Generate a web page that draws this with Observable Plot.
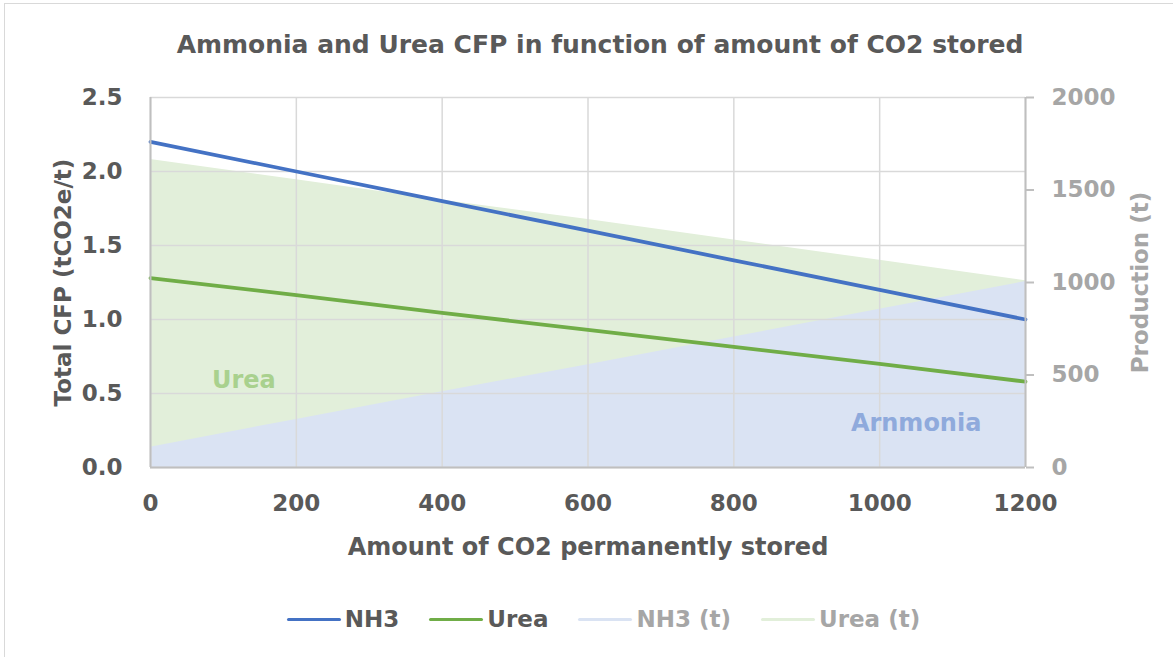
<!DOCTYPE html>
<html>
<head>
<meta charset="utf-8">
<script src="https://cdn.jsdelivr.net/npm/d3@7"></script>
<script src="https://cdn.jsdelivr.net/npm/@observablehq/plot@0.6"></script>
<style>
  html, body { margin: 0; padding: 0; background: #fff; width: 1173px; height: 657px; overflow: hidden; }
  body { font-family: "DejaVu Sans", sans-serif; }
  #frame { position: absolute; left: 4px; top: 3px; width: 1200px; height: 700px; border: 1px solid #d9d9d9; box-sizing: border-box; }
  #title { position: absolute; top: 30px; left: 0; width: 1200px; text-align: center; font-size: 25px; font-weight: bold; color: #595959; }
  #chart { position: absolute; left: 0; top: 80px; }
  #legend { position: absolute; top: 606px; left: 0; width: 1207px; display: flex; justify-content: center; gap: 30px; font-size: 23px; font-weight: bold; }
  .item { display: flex; align-items: center; }
  .sw { width: 54px; height: 3px; margin-right: 4px; border-radius: 2px; }
</style>
</head>
<body>
<div id="frame"></div>
<div id="title">Ammonia and Urea CFP in function of amount of CO2 stored</div>
<div id="chart"></div>
<div id="legend"></div>
<script>
// ---- data ----
const stored = [0, 200, 400, 600, 800, 1000, 1200];
const nh3CFP = [2.2, 2.0, 1.8, 1.6, 1.4, 1.2, 1.0];
const ureaCFP = [1.28, 1.165, 1.045, 0.93, 0.815, 0.70, 0.58];
const nh3Prod = [110, 260, 410, 555, 705, 855, 1005];
const ureaProd = [1665, 1555, 1445, 1340, 1230, 1120, 1010];

const xTicks = [0, 200, 400, 600, 800, 1000, 1200];
const yTicks = [0, 0.5, 1.0, 1.5, 2.0, 2.5];
const prodTicks = [0, 500, 1000, 1500, 2000];

const areaLabels = ["Urea", "Arnmonia"];
const areaLabelX = [128, 1050];
const areaLabelY = [0.59, 0.30];

const seriesNames = ["NH3", "Urea", "NH3 (t)", "Urea (t)"];
const seriesColors = ["#4472c4", "#70ad47", "#dae3f3", "#e2efda"];
const legendText = ["#595959", "#595959", "#a6a6a6", "#a6a6a6"];

// ---- derived table ----
const ratio = 2000 / 2.5; // production per CFP unit (right axis / left axis)
const rows = stored.map((s, i) => ({
  stored: s, nh3: nh3CFP[i], urea: ureaCFP[i], nh3t: nh3Prod[i], ureat: ureaProd[i]
}));
const labels = areaLabels.map((t, i) => ({text: t, x: areaLabelX[i], y: areaLabelY[i]}));

const font = "DejaVu Sans, sans-serif";

const chart = Plot.plot({
  width: 1173,
  height: 490,
  marginTop: 17,
  marginLeft: 150,
  marginRight: 148,
  marginBottom: 103,
  x: {domain: [0, 1200]},
  y: {domain: [0, 2.5]},
  style: {fontFamily: font, fontSize: "21px", fontWeight: "bold", color: "#595959", background: "transparent", overflow: "visible"},
  marks: [
    Plot.areaY(rows, {x: "stored", y: d => d.ureat / ratio, fill: seriesColors[3]}),
    Plot.areaY(rows, {x: "stored", y: d => d.nh3t / ratio, fill: seriesColors[2]}),
    Plot.gridY(yTicks, {stroke: "#d9d9d9", strokeOpacity: 1, strokeWidth: 1.5}),
    Plot.gridX(xTicks, {stroke: "#d9d9d9", strokeOpacity: 1, strokeWidth: 1.5}),
    Plot.text(labels, {x: "x", y: "y", text: "text", fill: (d) => d.text === "Urea" ? "#a9d18e" : "#8faadc", fontSize: 24, fontWeight: "bold"}),
    Plot.line(rows, {x: "stored", y: "urea", stroke: seriesColors[1], strokeWidth: 3.75}),
    Plot.line(rows, {x: "stored", y: "nh3", stroke: seriesColors[0], strokeWidth: 3.75}),
    Plot.ruleX([0], {stroke: "#bfbfbf", strokeWidth: 2}),
    Plot.ruleX([1200], {stroke: "#bfbfbf", strokeWidth: 2}),
    Plot.ruleY([0], {stroke: "#bfbfbf", strokeWidth: 2}),
    Plot.axisY(yTicks, {anchor: "left", tickSize: 0, tickPadding: 28, tickFormat: d => d.toFixed(1), label: null, fill: "#595959", fontSize: 23}),
    Plot.axisY(prodTicks.map(v => v / ratio), {anchor: "right", tickSize: 8, tickPadding: 18, tickFormat: d => String(Math.round(d * ratio)), label: null, fill: "#a6a6a6", stroke: "#bfbfbf", strokeWidth: 2, fontSize: 23}),
    Plot.axisX(xTicks, {anchor: "bottom", tickSize: 0, tickPadding: 27, tickFormat: d => String(d), label: null, fill: "#595959", fontSize: 23}),
    Plot.text(["Total CFP (tCO2e/t)"], {frameAnchor: "left", textAnchor: "middle", dx: -87, rotate: -90, fill: "#595959", fontSize: 23, fontWeight: "bold"}),
    Plot.text(["Production (t)"], {frameAnchor: "right", textAnchor: "middle", dx: 115, rotate: -90, fill: "#a6a6a6", fontSize: 23, fontWeight: "bold"}),
    Plot.text(["Amount of CO2 permanently stored"], {frameAnchor: "bottom", dy: 87, fill: "#595959", fontSize: 24, fontWeight: "bold"})
  ]
});
document.getElementById("chart").appendChild(chart);

const legend = document.getElementById("legend");
seriesNames.forEach((name, i) => {
  const item = document.createElement("div");
  item.className = "item";
  const sw = document.createElement("div");
  sw.className = "sw";
  sw.style.background = seriesColors[i];
  const t = document.createElement("span");
  t.textContent = name;
  t.style.color = legendText[i];
  item.appendChild(sw);
  item.appendChild(t);
  legend.appendChild(item);
});
</script>
</body>
</html>
